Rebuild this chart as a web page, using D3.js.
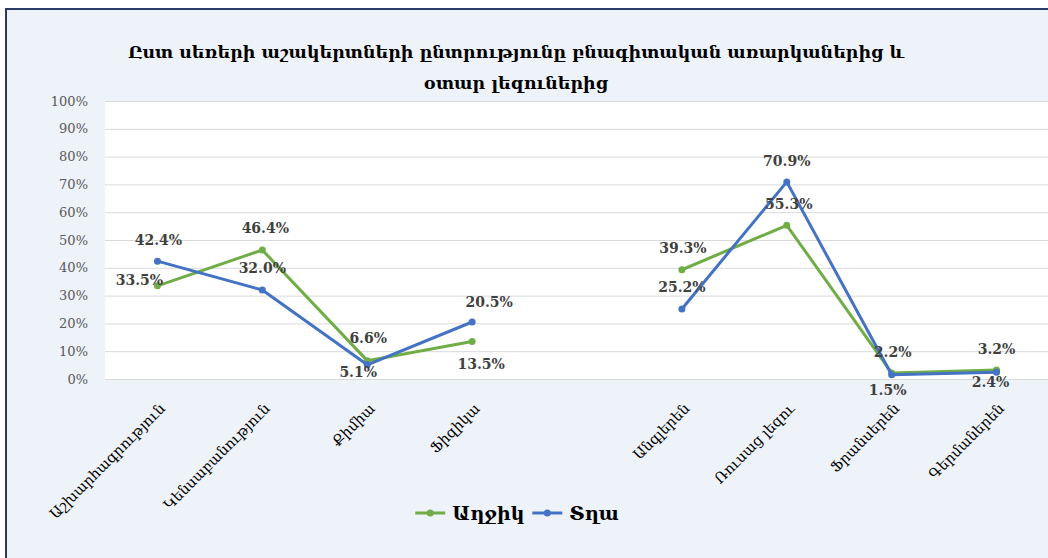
<!DOCTYPE html>
<html><head><meta charset="utf-8">
<script src="https://cdn.jsdelivr.net/npm/d3@7"></script>
<style>body{margin:0;background:#fff;overflow:hidden}</style>
</head><body><svg id="c" width="1048" height="558"></svg>
<script>
const titleLines = ["Ըստ սեռերի աշակերտների ընտրությունը բնագիտական առարկաներից և", "օտար լեզուներից"];
const categories = ["Աշխարհագրություն", "Կենսաբանություն", "Քիմիա", "Ֆիզիկա", "", "Անգլերեն", "Ռուսաց լեզու", "Ֆրանսերեն", "Գերմաներեն"];
const seriesNames = ["Աղջիկ", "Տղա"];
const girls = [33.5, 46.4, 6.6, 13.5, null, 39.3, 55.3, 2.2, 3.2];
const boys = [42.4, 32.0, 5.1, 20.5, null, 25.2, 70.9, 1.5, 2.4];
const yTickValues = [0, 10, 20, 30, 40, 50, 60, 70, 80, 90, 100];

// label placement (dx, dy from point) - styling only
const girlsLabelOffset = [[-18,-6],[3,-22],[1,-23],[9,23],null,[1,-22],[2,-21],[1,-21],[0,-21]];
const boysLabelOffset  = [[1,-21],[0,-22],[-9,7],[17,-20],null,[0,-22],[0,-21],[-4,15],[-6,10]];

const colors = ["#70AD47", "#4472C4"];
const serif = "'DejaVu Serif', serif";

const svg = d3.select("#c");
// chart background
svg.append("rect").attr("x", 6).attr("y", 9).attr("width", 1100).attr("height", 600)
  .attr("fill", "#EEF2F9").attr("stroke", "#2B3A67").attr("stroke-width", 2);

const plot = {left: 105, right: 1049, top: 101, bottom: 379};
svg.append("rect").attr("x", plot.left).attr("y", plot.top)
  .attr("width", 1048 - plot.left).attr("height", plot.bottom - plot.top).attr("fill", "#fff");

const x = d3.scaleBand().domain(d3.range(categories.length)).range([plot.left, plot.right]).padding(0);
const cx = i => x(i) + x.bandwidth() / 2;
const y = d3.scaleLinear().domain([0, 100]).range([plot.bottom, plot.top]);

// y axis with gridlines
const yAxis = d3.axisLeft(y).tickValues(yTickValues).tickFormat(d => d + "%")
  .tickSize(-(plot.right - plot.left)).tickPadding(17);
const ya = svg.append("g").attr("transform", `translate(${plot.left},0)`).call(yAxis);
ya.select(".domain").remove();
ya.selectAll(".tick line").attr("stroke", "#D9D9D9").attr("stroke-width", 1);
ya.selectAll(".tick text").attr("fill", "#595959").style("font-family", serif).style("font-size", "13px");

// x axis labels
const xa = svg.append("g");
xa.selectAll("text").data(categories).join("text")
  .attr("transform", (d, i) => `translate(${cx(i) + 5},${406}) rotate(-45)`)
  .attr("text-anchor", "end").attr("dominant-baseline", "central")
  .style("font-family", serif).style("font-size", "14.5px").attr("fill", "#000")
  .text(d => d);

// title
const title = svg.append("g");
const t1 = title.append("text").attr("x", 516).attr("y", 52).attr("text-anchor", "middle")
  .attr("dominant-baseline", "central").style("font-family", serif).style("font-weight", "bold")
  .style("font-size", "18px").text(titleLines[0]);
const w = t1.node().getComputedTextLength();
const fs = 18 * 777 / w;
t1.style("font-size", fs + "px");
title.append("text").attr("x", 516).attr("y", 83).attr("text-anchor", "middle")
  .attr("dominant-baseline", "central").style("font-family", serif).style("font-weight", "bold")
  .style("font-size", fs + "px").text(titleLines[1]);

// lines
const series = [girls, boys];
const offsets = [girlsLabelOffset, boysLabelOffset];
const line = d3.line().defined(d => d != null).x((d, i) => cx(i)).y(d => y(d));
series.forEach((s, k) => {
  const g = svg.append("g");
  g.append("path").datum(s).attr("d", line).attr("fill", "none")
    .attr("stroke", colors[k]).attr("stroke-width", 3).attr("stroke-linejoin", "round");
  g.selectAll("circle").data(s.map((v, i) => ({v, i})).filter(d => d.v != null)).join("circle")
    .attr("cx", d => cx(d.i)).attr("cy", d => y(d.v)).attr("r", 3.5).attr("fill", colors[k]);
});
series.forEach((s, k) => {
  svg.append("g").selectAll("text").data(s.map((v, i) => ({v, i})).filter(d => d.v != null)).join("text")
    .attr("x", d => cx(d.i) + offsets[k][d.i][0]).attr("y", d => y(d.v) + offsets[k][d.i][1])
    .attr("text-anchor", "middle").attr("dominant-baseline", "central")
    .style("font-family", serif).style("font-weight", "bold").style("font-size", "14px")
    .attr("fill", "#404040").text(d => d.v.toFixed(1) + "%");
});

// legend
const leg = svg.append("g");
let lx = 0;
seriesNames.forEach((n, k) => {
  const it = leg.append("g");
  it.append("line").attr("x1", 0).attr("x2", 30).attr("y1", 0).attr("y2", 0)
    .attr("stroke", colors[k]).attr("stroke-width", 3);
  it.append("circle").attr("cx", 15).attr("cy", 0).attr("r", 3.5).attr("fill", colors[k]);
  const tt = it.append("text").attr("x", 37).attr("y", 0).attr("dominant-baseline", "central")
    .style("font-family", serif).style("font-weight", "bold").style("font-size", "19px").text(n);
  const ww = 37 + tt.node().getComputedTextLength();
  it.attr("transform", `translate(${lx},0)`);
  lx += ww + 8;
});
lx -= 8;
leg.attr("transform", `translate(${517 - lx / 2},513)`);
</script>
</body></html>
